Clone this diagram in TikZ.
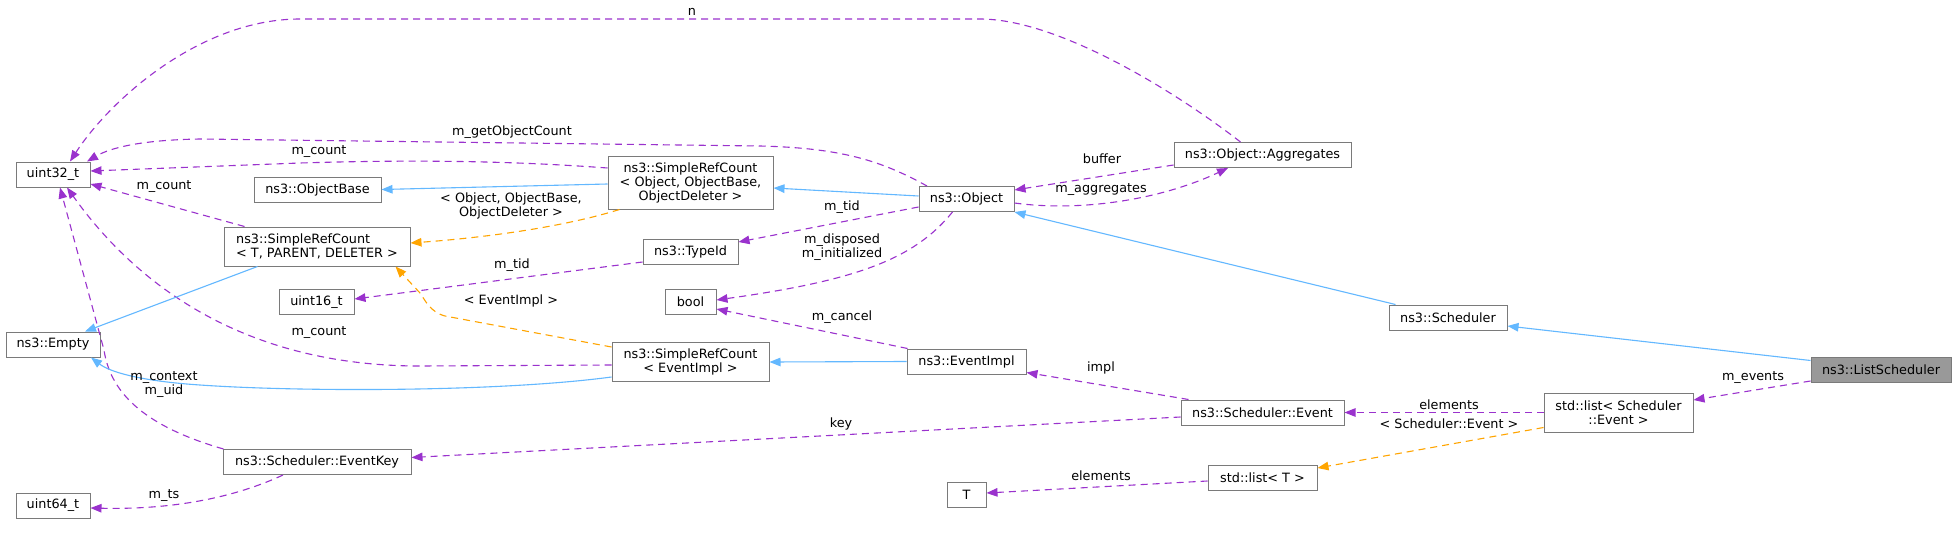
\documentclass[tikz,border=0pt]{standalone}
\usepackage{fontspec}
\setmainfont{DejaVu Sans}
\usetikzlibrary{arrows.meta}

\definecolor{memcol}{HTML}{9A32CD}
\definecolor{inhcol}{HTML}{63B8FF}
\definecolor{tplcol}{HTML}{FFA500}
\definecolor{boxcol}{HTML}{7A7A7A}
\definecolor{leafcol}{HTML}{999999}

\begin{document}
\begin{tikzpicture}[x=1pt, y=-1pt,
  font=\fontsize{12.8}{14}\selectfont,
  cls/.style={draw=boxcol, line width=1pt, fill=white, inner xsep=2pt, inner ysep=1pt, minimum height=25pt, align=center},
  lbl/.style={inner sep=0pt, align=center},
  tip/.style={-{Triangle[length=11pt,width=8.5pt]}},
  mem/.style={tip, memcol, line width=1.1pt, dash pattern=on 7pt off 5pt},
  inh/.style={tip, inhcol, line width=1.1pt},
  tpl/.style={tip, tplcol, line width=1.1pt, dash pattern=on 7pt off 5pt}]
\fill[white] (0,0) rectangle (1957,535);
\useasboundingbox (0,0) rectangle (1957,535);

\node[cls, minimum width=74pt] (uintA) at (53,174.5) {uint32\_t};
\node[cls, minimum width=127pt] (objbase) at (317.5,189.5) {ns3::ObjectBase};
\node[cls, minimum width=186pt, minimum height=39pt, align=left] (srcT) at (317,246.5) {ns3::SimpleRefCount\\< T, PARENT, DELETER >};
\node[cls, minimum width=75pt] (uintB) at (316.5,302) {uint16\_t};
\node[cls, minimum width=94pt] (empty) at (53,344.5) {ns3::Empty};
\node[cls, minimum width=188pt] (evkey) at (317,462) {ns3::Scheduler::EventKey};
\node[cls, minimum width=74pt] (uintC) at (53,505.5) {uint64\_t};
\node[cls, minimum width=165pt, minimum height=53pt] (srcO) at (690.5,182.5) {ns3::SimpleRefCount\\< Object, ObjectBase,\\ObjectDeleter >};
\node[cls, minimum width=95pt] (typeid) at (690.5,251.5) {ns3::TypeId};
\node[cls, minimum width=51pt] (bool) at (690.5,302) {bool};
\node[cls, minimum width=157pt, minimum height=39pt] (srcE) at (690.5,362) {ns3::SimpleRefCount\\< EventImpl >};
\node[cls, minimum width=95pt] (obj) at (966.5,199) {ns3::Object};
\node[cls, minimum width=119pt] (evimpl) at (966.5,361.5) {ns3::EventImpl};
\node[cls, minimum width=39pt] (T) at (966.5,494.5) {T};
\node[cls, minimum width=177pt] (agg) at (1262.5,155) {ns3::Object::Aggregates};
\node[cls, minimum width=163pt] (sevent) at (1262.5,412.5) {ns3::Scheduler::Event};
\node[cls, minimum width=109pt] (listT) at (1262.5,478) {std::list< T >};
\node[cls, minimum width=118pt] (sched) at (1448,317.5) {ns3::Scheduler};
\node[cls, minimum width=149pt, minimum height=39pt] (listSE) at (1618.5,412.5) {std::list< Scheduler\\::Event >};
\node[cls, minimum width=140pt, fill=leafcol] (listsched) at (1881,369.5) {ns3::ListScheduler};

\draw[mem] ([xshift=-22pt]agg.north) .. controls (1180,95) and (1060,19) .. (980,19) -- (300,19) .. controls (200,19) and (110,100) .. ([xshift=17pt]uintA.north);
\draw[mem] ([xshift=-39.5pt]obj.north) .. controls (880,160) and (840,148) .. (760,146) -- (200,139) .. controls (140,140) and (110,148) .. ([xshift=34pt]uintA.north);
\draw[mem] ([yshift=14.5pt]srcO.west) .. controls (500,160) and (400,160) .. (300,163) -- ([yshift=3.5pt]uintA.east);
\draw[mem] ([xshift=21pt]srcT.north west) -- ([yshift=-9.5pt]uintA.east);
\draw[mem] ([yshift=-3pt]srcE.west) -- (420,366) .. controls (250,366) and (140,290) .. ([xshift=14pt]uintA.south);
\draw[mem] ([xshift=1pt]evkey.north west) .. controls (140,425) and (110,390) .. (104,350) -- ([xshift=7pt]uintA.south);
\draw[inh] ([yshift=-1.5pt]srcO.west) -- (objbase.east);
\draw[tpl] ([xshift=12pt]srcO.south west) .. controls (560,228) and (480,238) .. ([yshift=3.5pt]srcT.east);
\draw[inh] ([xshift=34pt]srcT.south west) -- ([xshift=32pt]empty.north);
\draw[tpl] ([yshift=-5pt]srcE.north west) -- (445,316) .. controls (430,312) and (425,300) .. (420,293) -- ([xshift=-15pt]srcT.south east);
\draw[inh] ([yshift=-15pt]srcE.west) .. controls (500,392) and (300,392) .. (200,385) .. controls (140,381) and (110,372) .. ([xshift=38pt]empty.south);
\draw[mem] ([yshift=-10.5pt]typeid.west) -- ([yshift=3pt]uintB.east);
\draw[mem] ([yshift=-8pt]obj.west) -- ([yshift=9.5pt]typeid.east);
\draw[mem] ([xshift=-14pt]obj.south) .. controls (915,258) and (860,280) .. ([yshift=2pt]bool.east);
\draw[mem] ([xshift=1pt]evimpl.north west) -- ([yshift=-7pt]bool.east);
\draw[inh] (evimpl.west) -- (srcE.east);
\draw[inh] ([yshift=3pt]obj.west) -- ([yshift=-5.5pt]srcO.east);
\draw[mem] ([yshift=-10pt]agg.west) -- ([yshift=9pt]obj.east);
\draw[mem] ([yshift=-4pt]obj.east) .. controls (1080,212) and (1160,200) .. ([xshift=-34.5pt]agg.south);
\draw[inh] ([xshift=7pt]sched.north west) -- (obj.south east);
\draw[mem] ([xshift=8pt]sevent.north west) -- ([yshift=-11pt]evimpl.east);
\draw[mem] ([yshift=-4.5pt]sevent.west) -- ([yshift=4.5pt]evkey.east);
\draw[mem] ([yshift=-3pt]listT.west) -- ([yshift=1.5pt]T.east);
\draw[mem] (listSE.west) -- (sevent.east);
\draw[tpl] ([yshift=-15pt]listSE.west) -- ([yshift=10pt]listT.east);
\draw[inh] ([yshift=-4pt]listsched.north west) -- ([yshift=-8.5pt]sched.east);
\draw[mem] ([yshift=-11.5pt]listsched.west) -- ([yshift=12.5pt]listSE.east);
\draw[mem] ([xshift=-34pt]evkey.south) .. controls (240,495) and (180,510) .. ([yshift=-2.5pt]uintC.east);

\node[lbl] (ln) at (692,12) {n};
\node[lbl] (lgoc) at (512,132) {m\_getObjectCount};
\node[lbl] (lcntO) at (319,152) {m\_count};
\node[lbl] (lcntT) at (164,187) {m\_count};
\node[lbl] (lcntE) at (319,333) {m\_count};
\node[lbl] (lctx) at (164,384.5) {m\_context\\m\_uid};
\node[lbl] (ltplO) at (511,206) {< Object, ObjectBase,\\ObjectDeleter >};
\node[lbl] (ltplE) at (511,301) {< EventImpl >};
\node[lbl] (ltidB) at (512,265) {m\_tid};
\node[lbl] (ltidA) at (842,207) {m\_tid};
\node[lbl] (ldisp) at (842,247.5) {m\_disposed\\m\_initialized};
\node[lbl] (lcanc) at (842,317) {m\_cancel};
\node[lbl] (lbuf) at (1102,159) {buffer};
\node[lbl] (laggr) at (1101,190) {m\_aggregates};
\node[lbl] (limpl) at (1101,368) {impl};
\node[lbl] (lkey) at (841,424) {key};
\node[lbl] (lelT) at (1101,476) {elements};
\node[lbl] (lelSE) at (1449,405) {elements};
\node[lbl] (ltplSE) at (1449,424) {< Scheduler::Event >};
\node[lbl] (levts) at (1753,378) {m\_events};
\node[lbl] (lts) at (164,496) {m\_ts};
\end{tikzpicture}
\end{document}
